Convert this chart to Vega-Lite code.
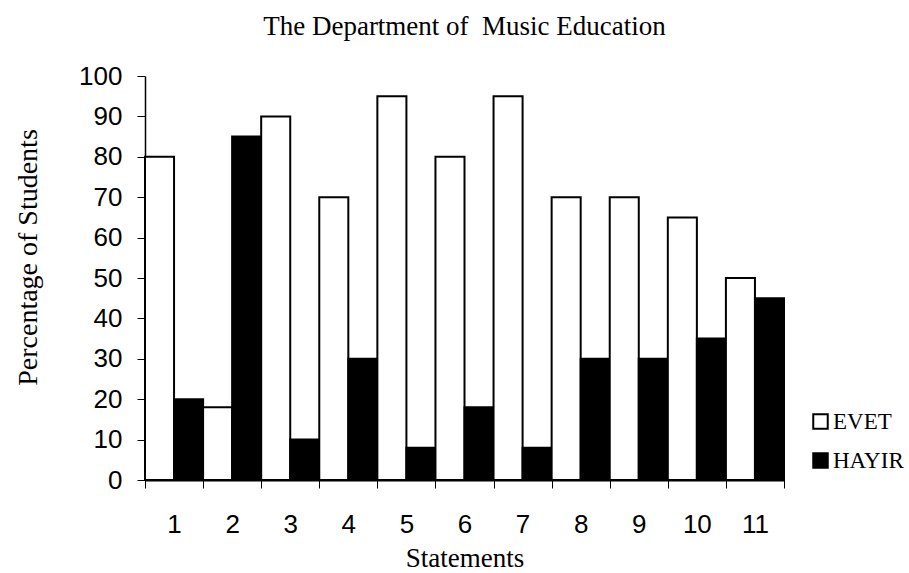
{
  "$schema": "https://vega.github.io/schema/vega-lite/v6.json",
  "width": 639,
  "height": 404,
  "autosize": {"type": "none"},
  "padding": {"left": 145, "top": 76, "right": 125, "bottom": 93},
  "background": "white",
  "title": {
    "text": "The Department of\u00a0 Music Education",
    "font": "Liberation Serif",
    "fontSize": 27,
    "fontWeight": "normal",
    "color": "black",
    "anchor": "middle",
    "offset": 22
  },
  "config": {"view": {"stroke": null}},
  "data": {
    "values": [
      {"s": "1", "g": "EVET", "v": 80}, {"s": "1", "g": "HAYIR", "v": 20},
      {"s": "2", "g": "EVET", "v": 18}, {"s": "2", "g": "HAYIR", "v": 85},
      {"s": "3", "g": "EVET", "v": 90}, {"s": "3", "g": "HAYIR", "v": 10},
      {"s": "4", "g": "EVET", "v": 70}, {"s": "4", "g": "HAYIR", "v": 30},
      {"s": "5", "g": "EVET", "v": 95}, {"s": "5", "g": "HAYIR", "v": 8},
      {"s": "6", "g": "EVET", "v": 80}, {"s": "6", "g": "HAYIR", "v": 18},
      {"s": "7", "g": "EVET", "v": 95}, {"s": "7", "g": "HAYIR", "v": 8},
      {"s": "8", "g": "EVET", "v": 70}, {"s": "8", "g": "HAYIR", "v": 30},
      {"s": "9", "g": "EVET", "v": 70}, {"s": "9", "g": "HAYIR", "v": 30},
      {"s": "10", "g": "EVET", "v": 65}, {"s": "10", "g": "HAYIR", "v": 35},
      {"s": "11", "g": "EVET", "v": 50}, {"s": "11", "g": "HAYIR", "v": 45}
    ]
  },
  "mark": {"type": "bar", "stroke": "black", "strokeWidth": 2},
  "encoding": {
    "x": {
      "field": "s", "type": "ordinal", "sort": null,
      "scale": {"paddingInner": 0, "paddingOuter": 0},
      "axis": {
        "title": "Statements",
        "titleFont": "Liberation Serif", "titleFontSize": 27, "titleFontWeight": "normal", "titleColor": "black",
        "titleBaseline": "alphabetic", "titleY": 86,
        "labelFont": "Liberation Sans", "labelFontSize": 26, "labelColor": "black", "labelAngle": 0,
        "labelPadding": 23,
        "tickBand": "extent", "tickSize": 8, "tickColor": "black", "domainColor": "black", "domainWidth": 2
      }
    },
    "xOffset": {"field": "g", "type": "nominal", "scale": {"paddingInner": 0, "paddingOuter": 0}},
    "y": {
      "field": "v", "type": "quantitative",
      "scale": {"domain": [0, 100]},
      "axis": {
        "title": "Percentage of Students",
        "titleFont": "Liberation Serif", "titleFontSize": 28, "titleFontWeight": "normal", "titleColor": "black",
        "titleX": -103, "titleY": 181, "titleAngle": -90, "titleBaseline": "bottom", "titleAlign": "center",
        "labelFont": "Liberation Sans", "labelFontSize": 26, "labelColor": "black",
        "labelPadding": 15, "labelOverlap": false, "labelFlush": false,
        "values": [0,10,20,30,40,50,60,70,80,90,100],
        "tickSize": 8, "tickColor": "black", "domainColor": "black", "domainWidth": 1.5, "grid": false
      }
    },
    "fill": {
      "field": "g", "type": "nominal",
      "scale": {"domain": ["EVET", "HAYIR"], "range": ["white", "black"]},
      "legend": {
        "title": null, "orient": "none", "legendX": 664, "legendY": 334, "padding": 0,
        "symbolType": "square", "symbolSize": 210, "symbolStrokeColor": "black", "symbolStrokeWidth": 2,
        "labelFont": "Liberation Serif", "labelFontSize": 23, "labelColor": "black", "labelOffset": 1,
        "rowPadding": 15
      }
    }
  }
}
